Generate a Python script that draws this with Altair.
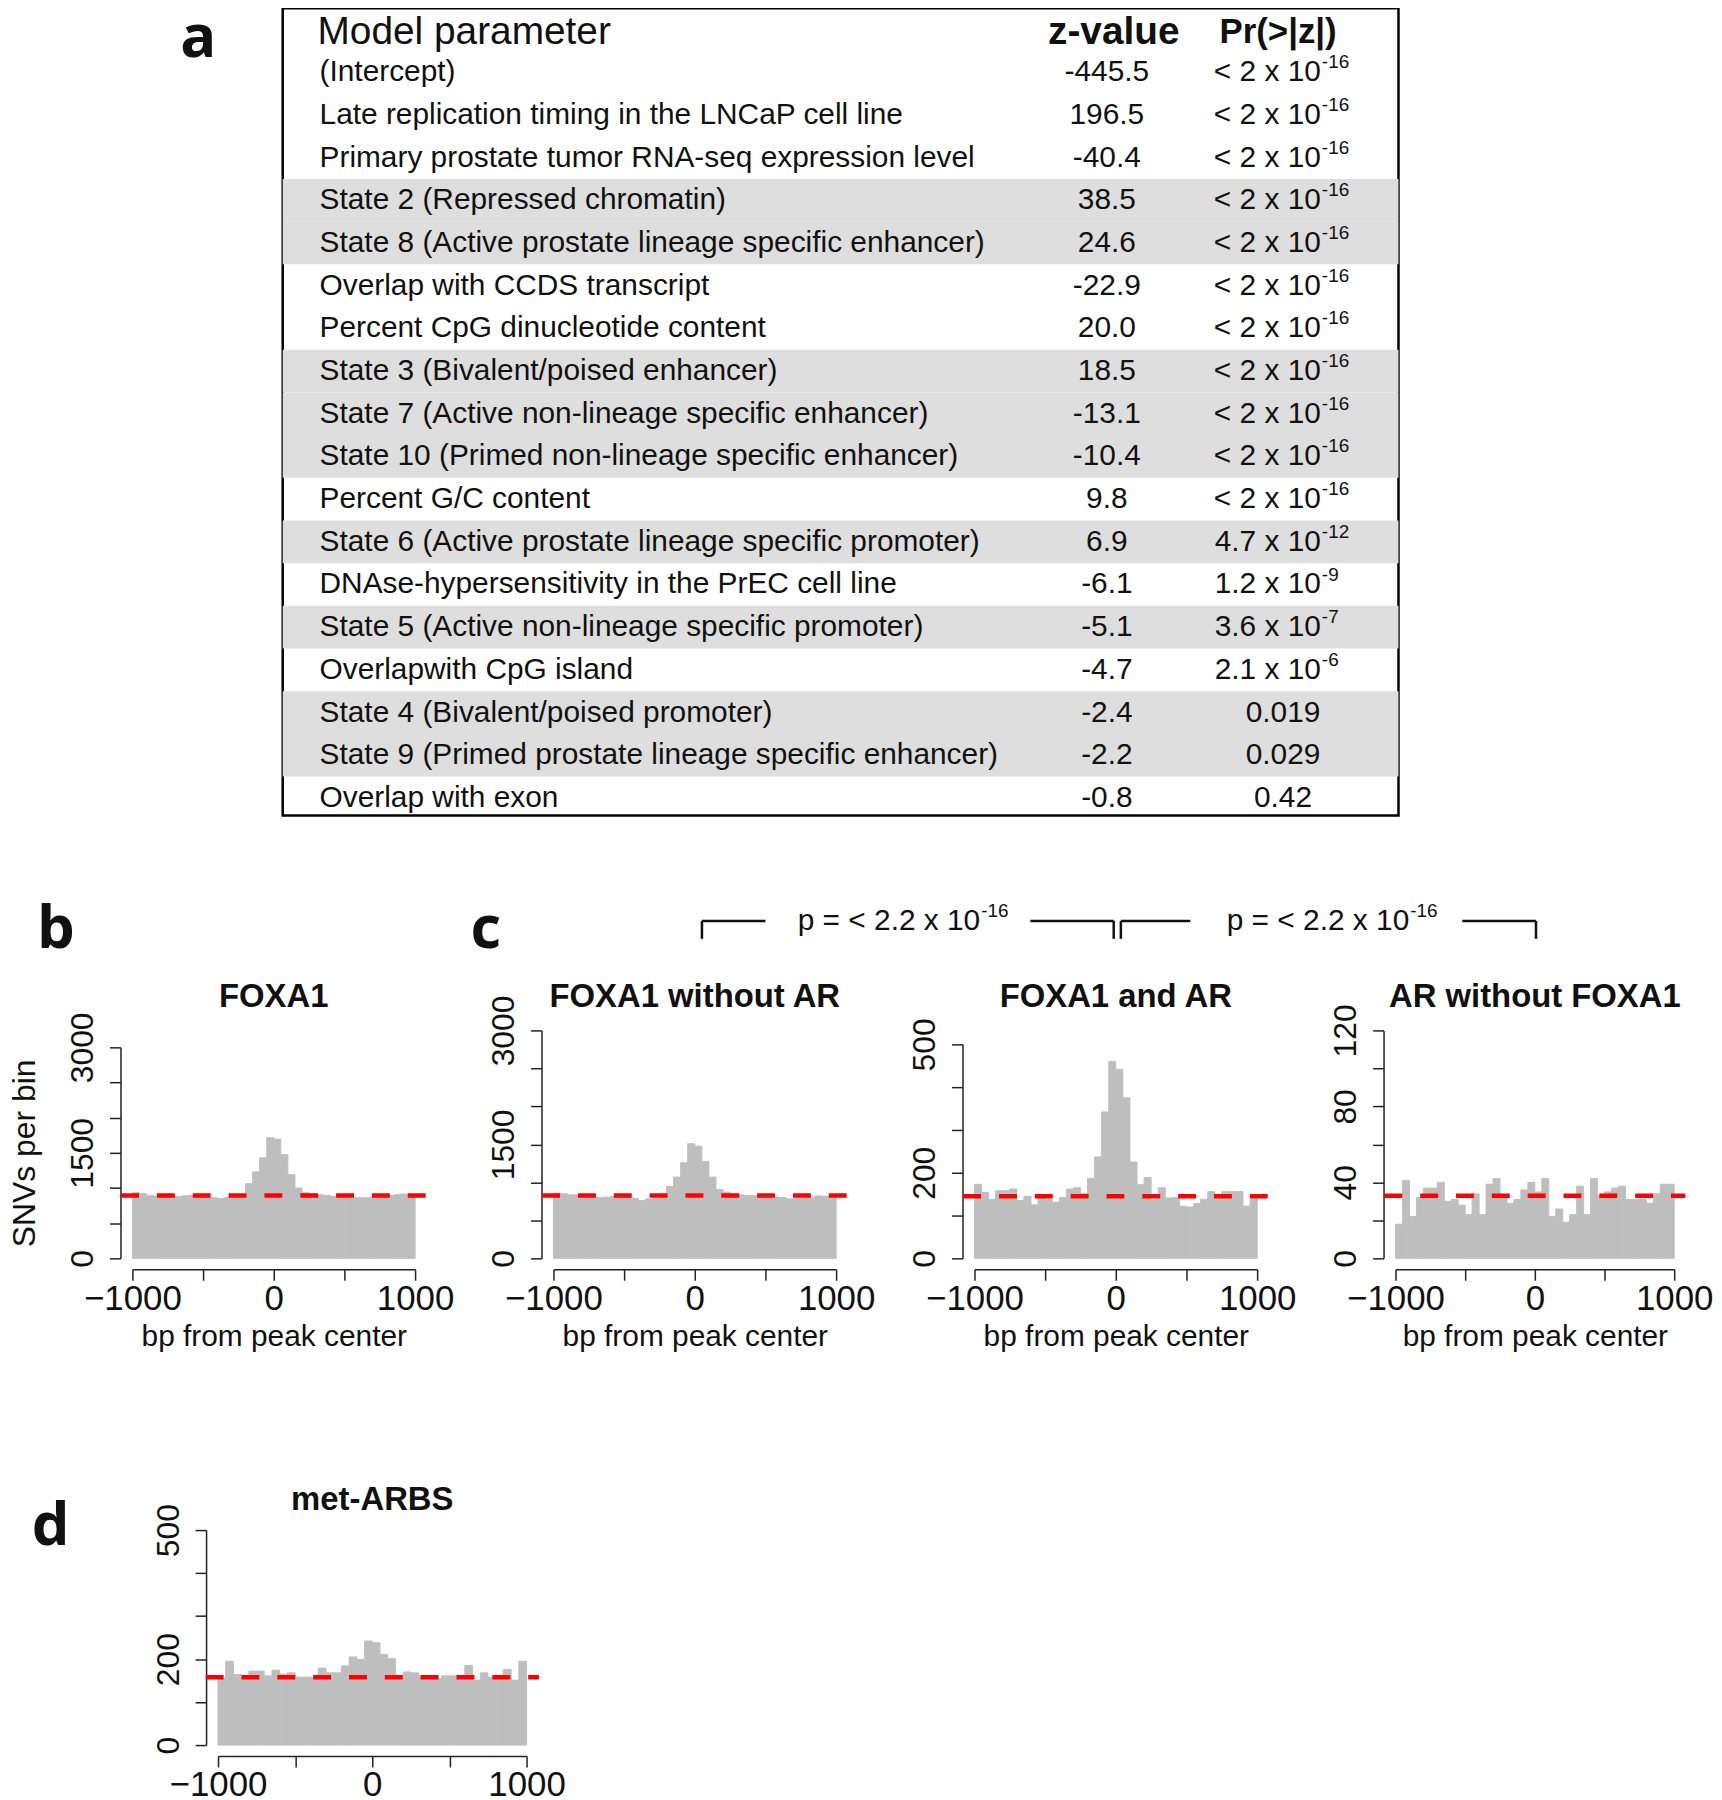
import altair as alt
import pandas as pd

# ---------------- data ----------------
params = [
    "(Intercept)",
    "Late replication timing in the LNCaP cell line",
    "Primary prostate tumor RNA-seq expression level",
    "State 2 (Repressed chromatin)",
    "State 8 (Active prostate lineage specific enhancer)",
    "Overlap with CCDS transcript",
    "Percent CpG dinucleotide content",
    "State 3 (Bivalent/poised enhancer)",
    "State 7 (Active non-lineage specific enhancer)",
    "State 10 (Primed non-lineage specific enhancer)",
    "Percent G/C content",
    "State 6 (Active prostate lineage specific promoter)",
    "DNAse-hypersensitivity in the PrEC cell line",
    "State 5 (Active non-lineage specific promoter)",
    "Overlapwith CpG island",
    "State 4 (Bivalent/poised promoter)",
    "State 9 (Primed prostate lineage specific enhancer)",
    "Overlap with exon",
]
z_values = [-445.5, 196.5, -40.4, 38.5, 24.6, -22.9, 20.0, 18.5, -13.1, -10.4,
            9.8, 6.9, -6.1, -5.1, -4.7, -2.4, -2.2, -0.8]
p_values = ["< 2 x 10^-16"] * 11 + ["4.7 x 10^-12", "1.2 x 10^-9", "3.6 x 10^-7",
                                   "2.1 x 10^-6", "0.019", "0.029", "0.42"]
shaded = [0, 0, 0, 1, 1, 0, 0, 1, 1, 1, 0, 1, 0, 1, 0, 1, 1, 0]

foxa1 = [933, 919, 895, 886, 876, 871, 881, 890, 895, 886, 876, 862, 848, 867, 876, 886,
         1062, 1229, 1429, 1714, 1695, 1476, 1190, 1000, 933, 919, 905, 895, 881, 871,
         862, 862, 862, 862, 871, 886, 895, 905, 914, 905]
foxa1_noar = [858, 850, 836, 836, 832, 820, 800, 805, 814, 818, 814, 790, 761, 783, 792, 818,
              946, 1069, 1258, 1509, 1478, 1276, 1069, 906, 871, 845, 836, 827, 827, 814,
              805, 805, 800, 783, 792, 796, 796, 822, 818, 810]
foxa1_ar = [173, 154, 138, 158, 158, 162, 135, 145, 125, 148, 138, 131, 142, 162, 165, 152,
            187, 237, 342, 460, 441, 375, 225, 172, 189, 137, 165, 141, 142, 122,
            120, 128, 138, 156, 145, 156, 156, 156, 122, 139]
ar_nofoxa1 = [18, 41, 22, 32, 37, 37, 40, 30, 31, 28, 23, 34, 23, 39, 42, 33,
              29, 31, 36, 40, 35, 42, 22, 26, 19, 23, 38, 23, 42, 33,
              35, 37, 38, 31, 31, 31, 29, 34, 39, 39]
met_arbs = [156, 195, 164, 158, 172, 172, 161, 174, 165, 168, 158, 158, 158, 179, 168, 168,
            184, 205, 199, 242, 238, 211, 201, 161, 170, 168, 161, 158, 154, 161,
            161, 158, 185, 151, 168, 158, 158, 176, 151, 195]
means = {"FOXA1": 895, "FOXA1 without AR": 827, "FOXA1 and AR": 145,
         "AR without FOXA1": 33, "met-ARBS": 158}

bin_starts = list(range(-1000, 1000, 50))
bin_ends = [s + 50 for s in bin_starts]
x_ticks = [-1000, -500, 0, 500, 1000]

FONT = "Liberation Sans"
LETTER_FONT = "Open Sans"
INK = "#111111"
YLAB_SIZE = 32


# ---------------- helpers ----------------
def spacer(w, h):
    return alt.Chart(pd.DataFrame({"v": [0]})).mark_point(opacity=0, size=1).encode(
        x=alt.X("v:Q", axis=None, scale=alt.Scale(domain=[0, 1])),
        y=alt.Y("v:Q", axis=None, scale=alt.Scale(domain=[0, 1])),
    ).properties(width=w, height=h)


def letters(items, w, h):
    df = pd.DataFrame(items, columns=["t", "fx", "fy"])
    return alt.Chart(df).mark_text(
        font=LETTER_FONT, fontSize=60, fontWeight="bold", align="center",
        baseline="alphabetic", color=INK
    ).encode(
        x=alt.X("fx:Q", axis=None, scale=alt.Scale(domain=[0, 1])),
        y=alt.Y("fy:Q", axis=None, scale=alt.Scale(domain=[0, 1], reverse=True)),
        text="t:N",
    ).properties(width=w, height=h)


def hist_panel(counts, title, width, height, ymax, top_px, ytick_vals, ylabel_vals,
               ytitle="", xtitle="bp from peak center", title_gap=16.6):
    df = pd.DataFrame({"start": bin_starts, "end": bin_ends, "count": counts,
                       "zero": [0] * len(counts)})
    xs = alt.Scale(domain=[-1000, 1000], nice=False, zero=False)
    ys = alt.Scale(domain=[0, ymax], range=[height, top_px], nice=False)
    xaxis = alt.Axis(
        values=x_ticks,
        labelExpr="datum.value == 0 ? '0' : datum.value == 1000 ? '1000' : "
                  "datum.value == -1000 ? '\u22121000' : ''",
        offset=11, tickSize=11, labelFontSize=35, labelPadding=1, labelFont=FONT,
        labelColor=INK, labelFlush=False, labelOverlap=False, grid=False,
        domainColor="#222222", tickColor="#222222", domainWidth=1.5, tickWidth=1.5,
        titleFontSize=30, titleFontWeight="normal", titleFont=FONT, titleColor=INK,
        titlePadding=6,
    )
    yaxis = alt.Axis(
        values=ytick_vals, format="d",
        labelExpr="indexof(%s, datum.value) >= 0 ? datum.label : ''" % str(ylabel_vals),
        offset=12, tickSize=11, labelFontSize=YLAB_SIZE, labelAngle=270, labelAlign="center",
        labelBaseline="bottom", labelPadding=10, labelFont=FONT, labelColor=INK,
        labelFlush=False, labelOverlap=False, grid=False,
        domainColor="#222222", tickColor="#222222", domainWidth=1.5, tickWidth=1.5,
        titleFontSize=32, titleFontWeight="normal", titleFont=FONT, titleColor=INK,
        titlePadding=25,
    )
    # the top tick label overhangs the plot; keep every panel title at the same height
    overhang = max(0.0, 0.278 * len(str(ylabel_vals[-1])) * 2 * YLAB_SIZE / 2 - top_px)
    bars = alt.Chart(df).mark_bar(color="#bebebe", stroke="#bebebe", strokeWidth=1).encode(
        x=alt.X("start:Q", scale=xs, axis=xaxis, title=xtitle),
        x2="end:Q",
        y=alt.Y("count:Q", scale=ys, axis=yaxis, title=ytitle),
        y2="zero:Q",
    )
    mdf = pd.DataFrame({"m": [means[title]], "a": [-1080], "b": [1080]})
    rule = alt.Chart(mdf).mark_rule(color="#ff0000", strokeWidth=4.5, strokeDash=[18, 18]).encode(
        x=alt.X("a:Q", scale=xs, axis=xaxis, title=xtitle),
        x2="b:Q",
        y=alt.Y("m:Q", scale=ys, axis=yaxis, title=ytitle),
    )
    return alt.layer(bars, rule).properties(
        width=width, height=height,
        title=alt.TitleParams(title, fontSize=33, fontWeight="bold", font=FONT,
                              anchor="middle", offset=round(title_gap - overhang, 1),
                              color=INK),
    )


# ---------------- panel a: table ----------------
TW, TH = 1121, 811
ys_t = alt.Scale(domain=[-0.5, 18.41], reverse=True, nice=False, zero=False)
rows = pd.DataFrame({
    "i": list(range(1, len(params) + 1)),
    "param": params,
    "z": ["%.1f" % v for v in z_values],
    "p": p_values,
    "shade": shaded,
})
rows["base"] = rows["p"].str.split("^").str[0]
rows["exp"] = rows["p"].str.split("^").str[1]
rows["y0"] = rows["i"] - 0.5
rows["y1"] = rows["i"] + 0.5
exp_rows = rows[rows["exp"].notna()]
plain_rows = rows[rows["exp"].isna()]
shade_rows = rows[rows["shade"] == 1]

shade_layer = alt.Chart(shade_rows).mark_rect(color="#dedede").encode(
    y=alt.Y("y0:Q", scale=ys_t, axis=None), y2="y1:Q")
txt = dict(font=FONT, fontSize=30, baseline="middle", color=INK)
param_layer = alt.Chart(rows).mark_text(align="left", **txt).encode(
    x=alt.value(37), y=alt.Y("i:Q", scale=ys_t, axis=None), text="param:N")
z_layer = alt.Chart(rows).mark_text(align="center", **txt).encode(
    x=alt.value(828), y=alt.Y("i:Q", scale=ys_t, axis=None), text="z:N")
pbase_layer = alt.Chart(exp_rows).mark_text(align="right", **txt).encode(
    x=alt.value(1043), y=alt.Y("i:Q", scale=ys_t, axis=None), text="base:N")
pexp_layer = alt.Chart(exp_rows).mark_text(
    align="left", font=FONT, fontSize=19, baseline="middle", color=INK, dy=-10
).encode(x=alt.value(1044), y=alt.Y("i:Q", scale=ys_t, axis=None), text="exp:N")
pplain_layer = alt.Chart(plain_rows).mark_text(align="center", **txt).encode(
    x=alt.value(1005), y=alt.Y("i:Q", scale=ys_t, axis=None), text="p:N")

hdr = pd.DataFrame({"i": [0.05], "a": ["Model parameter"], "b": ["z-value"], "c": ["Pr(>|z|)"]})
h1 = alt.Chart(hdr).mark_text(align="left", font=FONT, fontSize=39, baseline="middle", color=INK).encode(
    x=alt.value(35), y=alt.Y("i:Q", scale=ys_t, axis=None), text="a:N")
h2 = alt.Chart(hdr).mark_text(align="center", font=FONT, fontSize=39, fontWeight="bold",
                              baseline="middle", color=INK).encode(
    x=alt.value(835), y=alt.Y("i:Q", scale=ys_t, axis=None), text="b:N")
h3 = alt.Chart(hdr).mark_text(align="center", font=FONT, fontSize=35, fontWeight="bold",
                              baseline="middle", color=INK).encode(
    x=alt.value(1000), y=alt.Y("i:Q", scale=ys_t, axis=None), text="c:N")

table = alt.layer(shade_layer, param_layer, z_layer, pbase_layer, pexp_layer, pplain_layer,
                  h1, h2, h3).properties(
    width=TW, height=TH, view=alt.ViewBackground(stroke="black", strokeWidth=2.5))

letter_a = letters([["a", 0.690, 0.060]], 274, TH)
row1 = alt.hconcat(letter_a, table, spacing=0, bounds="flush")

# ---------------- bracket with p-values ----------------
bracket_h = pd.DataFrame({"x": [1.017, 1.797, 2.012, 2.823], "x2": [1.168, 1.995, 2.177, 2.998],
                          "y": [0.433] * 4})
bracket_v = pd.DataFrame({"x": [1.017, 1.995, 2.012, 2.998], "y": [0.433] * 4, "y2": [0.733] * 4})
bracket_t = pd.DataFrame({"x": [1.678, 2.697], "y": [0.433, 0.433],
                          "base": ["p = < 2.2 x 10", "p = < 2.2 x 10"], "exp": ["-16", "-16"]})
bx = alt.Scale(domain=[1, 3], nice=False, zero=False)
by = alt.Scale(domain=[0, 1], reverse=True)
bh = alt.Chart(bracket_h).mark_rule(color=INK, strokeWidth=2.5).encode(
    x=alt.X("x:Q", scale=bx, axis=None), x2="x2:Q", y=alt.Y("y:Q", scale=by, axis=None))
bv = alt.Chart(bracket_v).mark_rule(color=INK, strokeWidth=2.5).encode(
    x=alt.X("x:Q", scale=bx, axis=None), y=alt.Y("y:Q", scale=by, axis=None), y2="y2:Q")
bt1 = alt.Chart(bracket_t).mark_text(align="right", baseline="middle", font=FONT, fontSize=30,
                                     color=INK).encode(
    x=alt.X("x:Q", scale=bx, axis=None), y=alt.Y("y:Q", scale=by, axis=None), text="base:N")
bt2 = alt.Chart(bracket_t).mark_text(align="left", baseline="middle", font=FONT, fontSize=19,
                                     color=INK, dy=-10, dx=1).encode(
    x=alt.X("x:Q", scale=bx, axis=None), y=alt.Y("y:Q", scale=by, axis=None), text="exp:N")
bracket = alt.layer(bh, bv, bt1, bt2).properties(width=846, height=60)

letters_bc = letters([["b", 0.067, 0.883], ["c", 0.695, 0.883]], 688, 60)
row2 = alt.hconcat(letters_bc, bracket, spacing=0, bounds="flush")

# ---------------- panels b and c ----------------
H = 229
b_chart = hist_panel(foxa1, "FOXA1", 284, H, 3000, 17, list(range(0, 3001, 500)),
                     [0, 1500, 3000], ytitle="SNVs per bin")
c1_chart = hist_panel(foxa1_noar, "FOXA1 without AR", 284, H, 3000, 0,
                      list(range(0, 3001, 500)), [0, 1500, 3000])
c2_chart = hist_panel(foxa1_ar, "FOXA1 and AR", 284, H, 500, 14,
                      list(range(0, 501, 100)), [0, 200, 500])
c3_chart = hist_panel(ar_nofoxa1, "AR without FOXA1", 280, H, 120, 0,
                      list(range(0, 121, 20)), [0, 40, 80, 120])
row3 = alt.hconcat(spacer(123, H), b_chart, spacer(139, 1), c1_chart, spacer(139, 1),
                   c2_chart, spacer(139, 1), c3_chart, spacing=0, bounds="flush")

# ---------------- panel d ----------------
d_chart = hist_panel(met_arbs, "met-ARBS", 310, 216, 500, 0, list(range(0, 501, 100)),
                     [0, 200, 500], xtitle="", title_gap=13.6)
letter_d = letters([["d", 0.196, 0.069]], 209, 216)
row4 = alt.hconcat(letter_d, d_chart, spacing=0, bounds="flush")

top12 = alt.vconcat(row1, row2, spacing=77)
top123 = alt.vconcat(top12, row3, spacing=19)
chart = alt.vconcat(top123, row4, spacing=130).properties(
    padding={"left": 0, "top": -6, "right": 0, "bottom": 0}
).configure(font=FONT, view=alt.ViewConfig(stroke="transparent"))

chart.save("out.html", embed_options={"renderer": "svg", "actions": False})
